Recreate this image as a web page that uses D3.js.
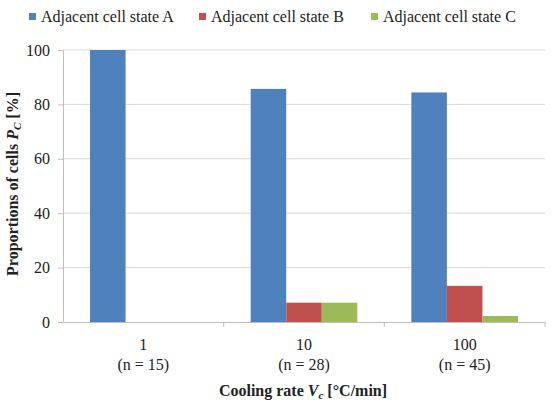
<!DOCTYPE html>
<html>
<head>
<meta charset="utf-8">
<script src="https://cdn.jsdelivr.net/npm/d3@7"></script>
</head>
<body style="margin:0;background:#fff">
<div id="graph"></div>
<script>
// chart values
const categories = ["1", "10", "100"];
const sampleSizes = ["(n = 15)", "(n = 28)", "(n = 45)"];
const series = ["Adjacent cell state A", "Adjacent cell state B", "Adjacent cell state C"];
const stateA = [100, 85.7, 84.4];
const stateB = [0, 7.1, 13.3];
const stateC = [0, 7.1, 2.2];
const yTicks = [0, 20, 40, 60, 80, 100];
const colors = ["#4f81bd", "#c0504d", "#9bbb59"];

const w = 552, h = 404;
const plotLeft = 63, plotRight = 545, plotTop = 50, plotBottom = 322;
const serif = "'Liberation Serif'";

const values = [stateA, stateB, stateC];
const rows = categories.map((c, i) => ({
  cat: c,
  vals: series.map((s, j) => ({ key: s, value: values[j][i] }))
}));

const svg = d3.select("#graph")
              .append("svg")
              .attr("width", w)
              .attr("height", h)
              .style("font-family", serif);

const x0 = d3.scaleBand()
             .domain(categories)
             .range([plotLeft, plotRight])
             .padding(0);

const x1 = d3.scaleBand()
             .domain(series)
             .range([0, x0.bandwidth()])
             .paddingInner(0)
             .paddingOuter(0.76);

const y = d3.scaleLinear()
            .domain([0, 100])
            .range([plotBottom, plotTop]);

const color = d3.scaleOrdinal().domain(series).range(colors);

// gridlines
svg.append("g")
   .selectAll("line")
   .data(yTicks.filter(d => d > 0))
   .enter()
   .append("line")
   .attr("x1", plotLeft)
   .attr("x2", plotRight)
   .attr("y1", d => y(d))
   .attr("y2", d => y(d))
   .attr("stroke", "#d9d9d9")
   .attr("stroke-width", 1);

// y axis
const yAxis = d3.axisLeft(y)
                .tickValues(yTicks)
                .tickSizeInner(5)
                .tickSizeOuter(0)
                .tickPadding(8);

const ya = svg.append("g")
              .attr("transform", `translate(${plotLeft}, 0)`)
              .call(yAxis)
              .attr("font-family", null)
              .attr("font-size", null);
ya.select(".domain").attr("stroke", "#bfbfbf");
ya.selectAll(".tick line").attr("stroke", "#bfbfbf");
ya.selectAll(".tick text")
  .style("font-size", "16px")
  .style("font-family", serif)
  .attr("fill", "#222");

// bars
svg.append("g")
   .selectAll("g")
   .data(rows)
   .enter()
   .append("g")
   .attr("transform", d => `translate(${x0(d.cat)}, 0)`)
   .selectAll("rect")
   .data(d => d.vals)
   .enter()
   .append("rect")
   .attr("x", d => x1(d.key))
   .attr("width", x1.bandwidth())
   .attr("y", d => y(d.value))
   .attr("height", d => plotBottom - y(d.value))
   .attr("fill", d => color(d.key));

// x axis
const xAxis = d3.axisBottom(x0)
                .tickSize(0)
                .tickFormat("");
const xa = svg.append("g")
              .attr("transform", `translate(0, ${plotBottom})`)
              .call(xAxis);
xa.select(".domain").attr("stroke", "#bfbfbf");

// category boundary ticks
svg.append("g")
   .selectAll("line")
   .data(categories.slice(1).map(c => x0(c)).concat([plotRight]))
   .enter()
   .append("line")
   .attr("x1", d => d)
   .attr("x2", d => d)
   .attr("y1", plotBottom)
   .attr("y2", plotBottom + 5)
   .attr("stroke", "#bfbfbf");

// category labels
const labels = svg.append("g")
                  .selectAll("text")
                  .data(categories)
                  .enter()
                  .append("text")
                  .attr("text-anchor", "middle")
                  .attr("fill", "#222")
                  .attr("x", d => x0(d) + x0.bandwidth() / 2)
                  .style("font-family", serif)
                  .style("font-size", "16px");
labels.append("tspan")
      .attr("x", d => x0(d) + x0.bandwidth() / 2)
      .attr("y", 350)
      .text(d => d);
labels.append("tspan")
      .attr("x", d => x0(d) + x0.bandwidth() / 2)
      .attr("y", 370)
      .text((d, i) => sampleSizes[i]);

// x title
const xt = svg.append("text")
              .attr("x", 303)
              .attr("y", 396)
              .attr("text-anchor", "middle")
              .attr("fill", "#222")
              .style("font-family", serif)
              .style("font-size", "16px")
              .style("font-weight", "bold");
xt.append("tspan").text("Cooling rate ");
xt.append("tspan").style("font-style", "italic").text("V");
xt.append("tspan").attr("dy", 3).style("font-size", "11px").style("font-style", "italic").text("c");
xt.append("tspan").attr("dy", -3).text(" [°C/min]");

// y title
const yt = svg.append("text")
              .attr("transform", "rotate(-90)")
              .attr("x", -184)
              .attr("y", 18)
              .attr("text-anchor", "middle")
              .attr("fill", "#222")
              .style("font-family", serif)
              .style("font-size", "16px")
              .style("font-weight", "bold");
yt.append("tspan").text("Proportions of cells ");
yt.append("tspan").style("font-style", "italic").text("P");
yt.append("tspan").attr("dy", 3).style("font-size", "11px").style("font-style", "italic").text("C");
yt.append("tspan").attr("dy", -3).text(" [%]");

// legend
const legendX = [29, 199, 371];
const legend = svg.append("g");
const items = legend.selectAll("g")
                    .data(series)
                    .enter()
                    .append("g")
                    .attr("transform", (d, i) => `translate(${legendX[i]}, 0)`);
items.append("rect")
     .attr("x", 0)
     .attr("y", 13)
     .attr("width", 7)
     .attr("height", 7)
     .attr("fill", d => color(d));
items.append("text")
     .attr("x", 12)
     .attr("y", 22)
     .attr("fill", "#222")
     .style("font-family", serif)
     .style("font-size", "16px")
     .text(d => d);
</script>
</body>
</html>
